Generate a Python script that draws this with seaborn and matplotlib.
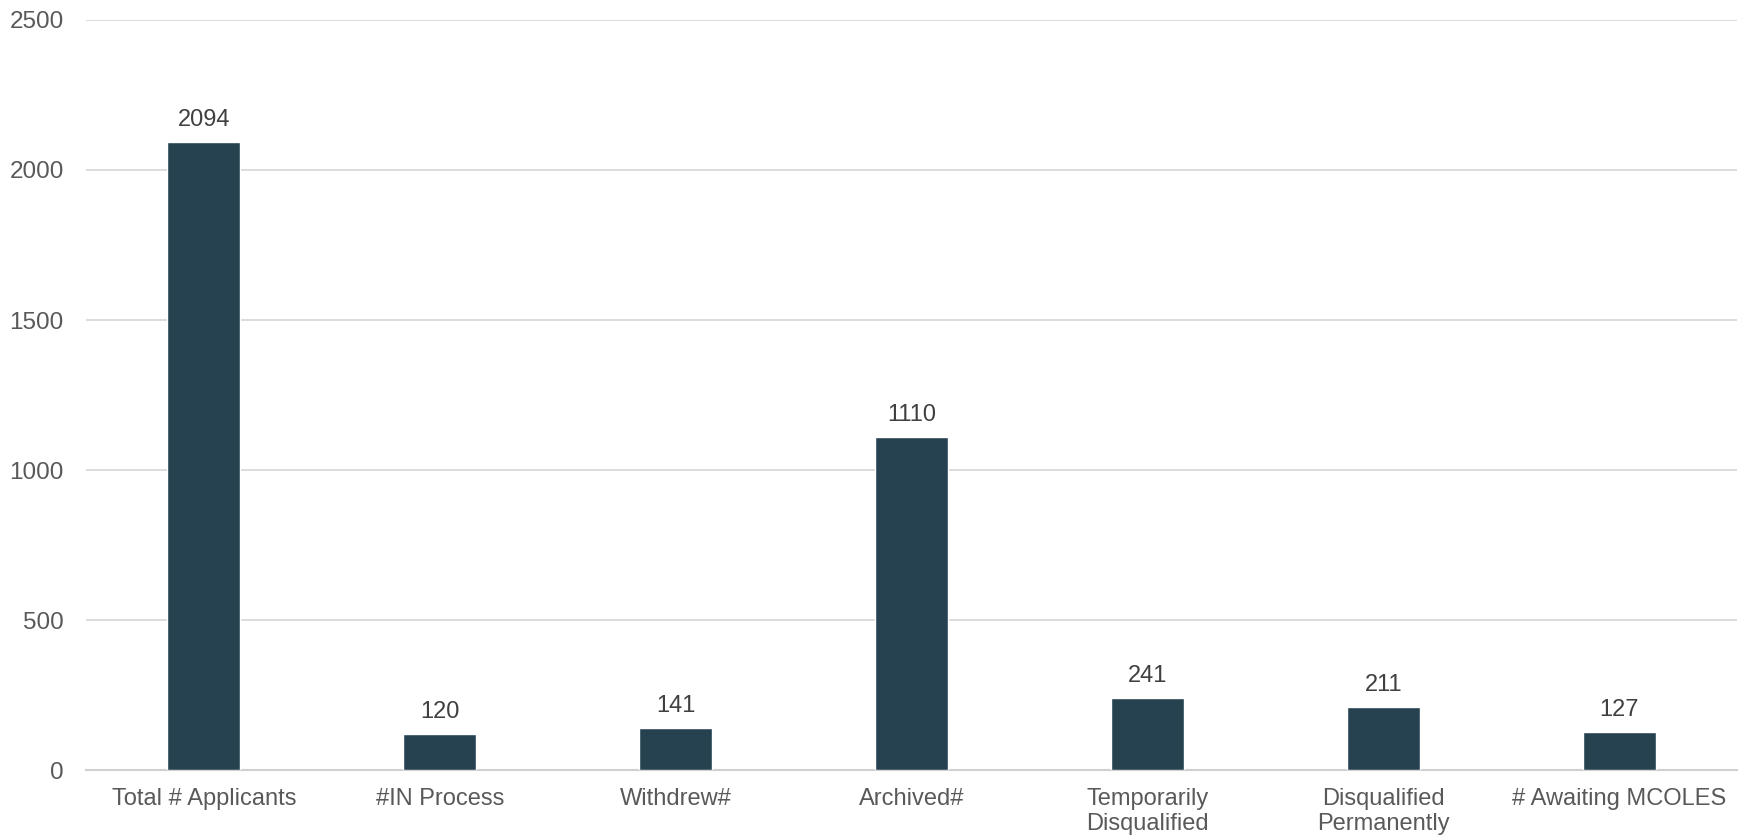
import matplotlib
matplotlib.use("Agg")
import matplotlib.pyplot as plt
import seaborn as sns
import pandas as pd

categories = [
    "Total # Applicants",
    "#IN Process",
    "Withdrew#",
    "Archived#",
    "Temporarily\nDisqualified",
    "Disqualified\nPermanently",
    "# Awaiting MCOLES",
]
counts = [2094, 120, 141, 1110, 241, 211, 127]
y_ticks = [0, 500, 1000, 1500, 2000, 2500]

sns.set_theme(style="white")
plt.rcParams["font.family"] = ["Liberation Sans", "DejaVu Sans"]

df = pd.DataFrame({"category": categories, "count": counts})

fig = plt.figure(figsize=(17.44, 8.4), dpi=100)
ax = fig.add_axes([0.0493, 0.0833, 0.9467, 0.8929])

sns.barplot(data=df, x="category", y="count", color="#264150",
            saturation=1, width=0.31, ax=ax, zorder=3)

for cont in ax.containers:
    ax.bar_label(cont, fmt="%d", padding=8, fontsize=17, color="#404040")

ax.set_ylim(0, 2500)
ax.set_xlim(-0.5, len(categories) - 0.5)
ax.set_yticks(y_ticks)
ax.set_yticklabels([str(t) for t in y_ticks])
ax.yaxis.grid(True, color="#d9d9d9", linewidth=1.3, zorder=0)
ax.set_axisbelow(True)

for side in ["top", "right", "left"]:
    ax.spines[side].set_visible(False)
ax.spines["bottom"].set_color("#d0d0d0")
ax.spines["bottom"].set_linewidth(1.5)

ax.tick_params(axis="y", length=0, pad=16, labelsize=17.5, labelcolor="#595959")
ax.tick_params(axis="x", length=0, pad=13, labelsize=17, labelcolor="#595959")
ax.set_xlabel("")
ax.set_ylabel("")

fig.savefig("out.png", dpi=100, facecolor="white")
